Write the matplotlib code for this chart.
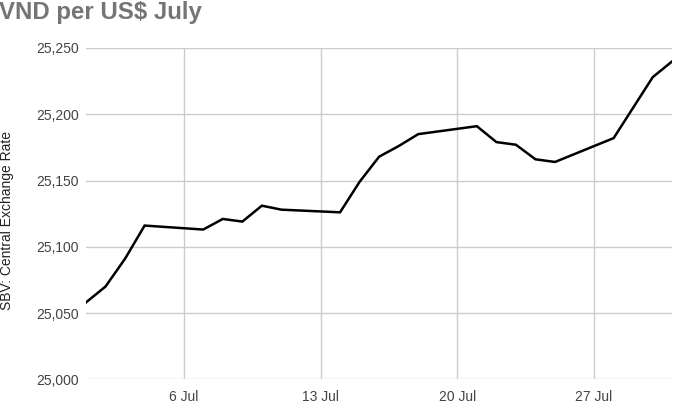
import matplotlib
matplotlib.use("Agg")
import matplotlib.pyplot as plt

# day of July and SBV central rate (VND per US$)
days = [1, 2, 3, 4, 7, 8, 9, 10, 11, 14, 15, 16, 17, 18, 21, 22, 23, 24, 25, 28, 29, 30, 31]
rates = [25058, 25070, 25091, 25116, 25113, 25121, 25119, 25131, 25128, 25126, 25149, 25168,
         25176, 25185, 25191, 25179, 25177, 25166, 25164, 25182, 25205, 25228, 25240]

tick_days = [6, 13, 20, 27]
tick_labels = ["6 Jul", "13 Jul", "20 Jul", "27 Jul"]
y_ticks = [25000, 25050, 25100, 25150, 25200, 25250]

plt.rcParams['font.family'] = ['Liberation Sans', 'DejaVu Sans']

fig = plt.figure(figsize=(6.76, 4.12), dpi=100)
ax = fig.add_axes([0.1272, 0.0794, 0.8673, 0.8041])

ax.plot(days, rates, color="black", lw=1.8, solid_joinstyle="miter", zorder=3)

ax.set_xlim(1, 31)
ax.set_ylim(25000, 25250)
ax.set_xticks(tick_days)
ax.set_xticklabels(tick_labels)
ax.set_yticks(y_ticks)
ax.set_yticklabels([f"{v:,}" for v in y_ticks])
ax.grid(True, color="#cccccc", lw=1)
ax.set_axisbelow(True)
for s in ax.spines.values():
    s.set_visible(False)
ax.tick_params(length=0, labelsize=10, colors="#444444")
ax.tick_params(axis="x", pad=8)
ax.tick_params(axis="y", pad=5)

fig.text(0.011, 1 - 221 / 412, "SBV: Central Exchange Rate", rotation=90,
         ha="center", va="center", fontsize=10, color="#222222")
fig.text(-0.002, 1 - 13 / 412, "VND per US$ July", ha="left", va="center",
         fontsize=17.3, fontweight="bold", color="#757575")

fig.savefig("out.png", dpi=100)
